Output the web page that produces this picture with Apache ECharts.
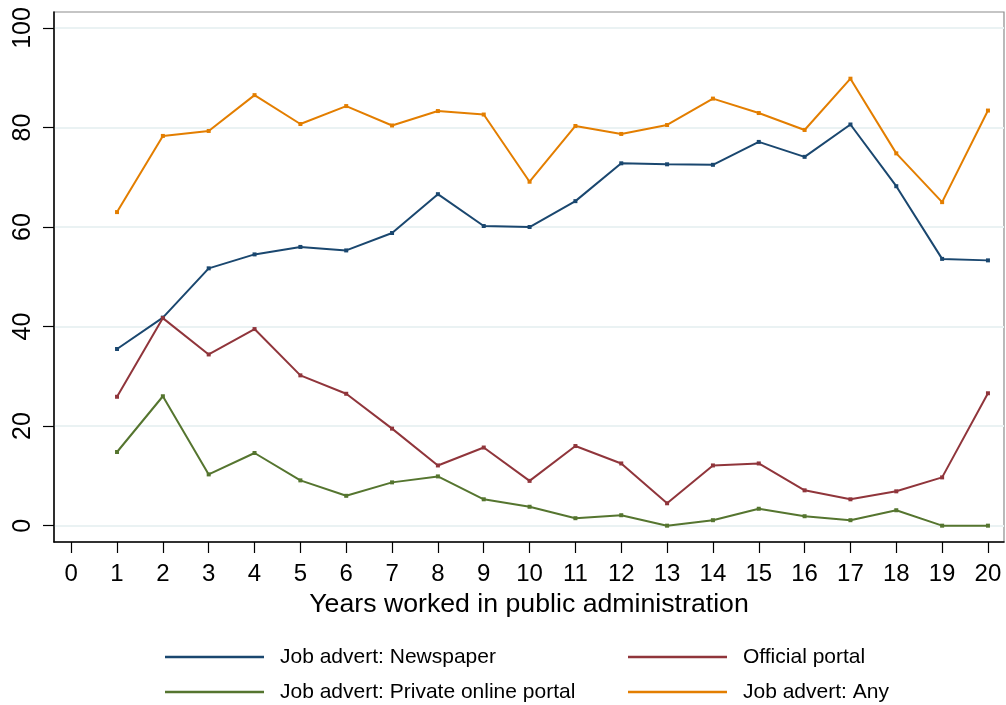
<!DOCTYPE html>
<html>
<head>
<meta charset="utf-8">
<script src="https://cdn.jsdelivr.net/npm/echarts@6/dist/echarts.min.js"></script>
<style>
  html, body { margin: 0; padding: 0; background: #fff; }
  #chart { width: 1006px; height: 705px; }
</style>
</head>
<body>
<div id="chart"></div>
<script>
// years worked, x ticks 0..20
var years = [1, 2, 3, 4, 5, 6, 7, 8, 9, 10, 11, 12, 13, 14, 15, 16, 17, 18, 19, 20];
var xTicks = [0, 1, 2, 3, 4, 5, 6, 7, 8, 9, 10, 11, 12, 13, 14, 15, 16, 17, 18, 19, 20];
var yTicks = [0, 20, 40, 60, 80, 100];

var newspaper = [35.5, 41.8, 51.7, 54.5, 56.0, 55.3, 58.8, 66.6, 60.2, 60.0, 65.2, 72.8, 72.6, 72.5, 77.1, 74.1, 80.6, 68.2, 53.6, 53.3];
var official = [25.9, 41.7, 34.4, 39.5, 30.2, 26.5, 19.5, 12.1, 15.7, 9.0, 16.0, 12.5, 4.5, 12.1, 12.5, 7.1, 5.3, 6.9, 9.7, 26.6];
var privatePortal = [14.8, 26.0, 10.3, 14.6, 9.1, 6.0, 8.7, 9.9, 5.3, 3.8, 1.5, 2.1, 0, 1.1, 3.4, 1.9, 1.1, 3.1, 0, 0];
var anyAdvert = [63.0, 78.3, 79.3, 86.5, 80.7, 84.3, 80.4, 83.3, 82.6, 69.1, 80.3, 78.7, 80.5, 85.8, 82.9, 79.5, 89.8, 74.8, 65.0, 83.4];

var names = ['Job advert: Newspaper', 'Official portal', 'Job advert: Private online portal', 'Job advert: Any'];
var colors = ['#1a476f', '#90353b', '#55752f', '#e37e00'];

var font = 'Liberation Sans, Arial, sans-serif';

function pairs(vals) {
  return years.map(function (y, i) { return [y, vals[i]]; });
}

function mkSeries(name, vals, color) {
  return {
    name: name,
    type: 'line',
    data: pairs(vals),
    symbol: 'rect',
    symbolSize: 4,
    showSymbol: true,
    lineStyle: { color: color, width: 2 },
    itemStyle: { color: color },
    emphasis: { disabled: true },
    animation: false
  };
}

// one legend box per entry, laid out 2 x 2 like the original
function mkLegend(name, left, top) {
  return {
    data: [name],
    left: left,
    top: top,
    icon: 'rect',
    itemWidth: 99,
    itemHeight: 2.5,
    selectedMode: false,
    textStyle: { fontFamily: font, fontSize: 21, color: '#000', lineHeight: 24, padding: [0, 0, 0, 11] }
  };
}

var myChart = echarts.init(document.getElementById('chart'));
var option = {
  backgroundColor: '#fff',
  animation: false,
  grid: {
    left: 54, right: 2, top: 12, bottom: 163,
    show: true, borderColor: '#8c8c8c', borderWidth: 1.2
  },
  xAxis: {
    type: 'value',
    min: -0.375,
    max: 20.35,
    name: 'Years worked in public administration',
    nameLocation: 'middle',
    nameGap: 42,
    nameTextStyle: { fontFamily: font, fontSize: 26.7, color: '#000' },
    axisLine: { show: true, onZero: false, lineStyle: { color: '#000', width: 1.5 } },
    axisTick: { show: true, length: 11, customValues: xTicks, lineStyle: { color: '#000', width: 1.2 } },
    axisLabel: { customValues: xTicks, margin: 20, fontFamily: font, fontSize: 24, color: '#000' },
    splitLine: { show: false }
  },
  yAxis: {
    type: 'value',
    min: -3.28,
    max: 103.2,
    axisLine: { show: true, onZero: false, lineStyle: { color: '#000', width: 1.5 } },
    axisTick: { show: true, length: 11, customValues: yTicks, lineStyle: { color: '#000', width: 1.2 } },
    axisLabel: { customValues: yTicks, rotate: 90, margin: 18, fontFamily: font, fontSize: 25, color: '#000' },
    splitLine: { show: true, lineStyle: { color: '#eaf2f3', width: 2 } }
  },
  legend: [
    mkLegend(names[0], 160, 640),
    mkLegend(names[1], 623, 640),
    mkLegend(names[2], 160, 675),
    mkLegend(names[3], 623, 675)
  ],
  series: [
    mkSeries(names[0], newspaper, colors[0]),
    mkSeries(names[1], official, colors[1]),
    mkSeries(names[2], privatePortal, colors[2]),
    mkSeries(names[3], anyAdvert, colors[3])
  ]
};
myChart.setOption(option);
</script>
</body>
</html>
